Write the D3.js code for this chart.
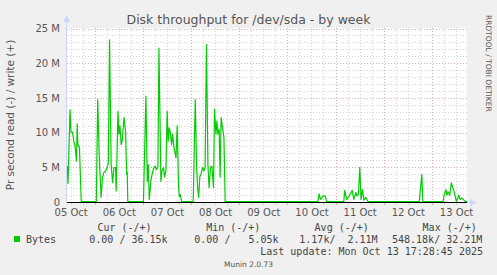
<!DOCTYPE html>
<html>
<head>
<meta charset="utf-8">
<script src="https://cdn.jsdelivr.net/npm/d3@7"></script>
<style>
  body { margin: 0; background: #f0f0f0; }
  svg { display: block; }
  text { font-family: "DejaVu Sans", sans-serif; fill: #555; }
  .mono { font-family: "DejaVu Sans Mono", monospace; font-size: 10px; fill: #444; white-space: pre; }
</style>
</head>
<body>
<div id="chart"></div>
<script>
var width = 497;
var height = 275;

// hours since 05 Oct 00:00 and write throughput in M bytes/s
var hours = [10.3, 10.7, 11.7, 12.2, 12.9, 13.7, 14.2, 14.7, 14.9, 15.3, 15.6, 16.4, 17.3,
  24.8, 25.5, 26.3, 27.2, 27.9, 28.6, 29.4, 30.2, 30.8, 31.4, 32.2, 32.9, 33.6, 34.4, 34.7,
  35.6, 36.1, 36.6, 37.2, 37.7, 38.6, 39.4, 39.9, 40.2, 40.5,
  48.3, 49.5, 50.2, 50.7, 51.2, 52.0, 52.6, 53.5, 54.1, 54.8, 55.5, 56.0, 57.0, 57.5, 58.3,
  58.8, 59.5, 60.1, 60.6, 61.1, 61.6, 62.3, 62.8, 63.5, 64.5, 65.1, 65.8, 66.2, 66.7, 67.3,
  73.1, 74.1, 74.8, 75.3, 75.8, 76.4, 77.0, 77.7, 78.4, 79.0, 79.7, 80.4, 81.0, 81.7, 82.4,
  83.2, 83.7, 84.4, 84.9, 85.4, 86.0, 86.5, 87.0, 87.7, 88.4, 89.0,
  135.2, 135.8, 136.5, 137.8, 138.8, 139.6,
  148.1, 148.6, 149.5, 150.8, 152.3, 153.1, 154.1, 154.7, 155.4, 156.1, 156.7, 157.4, 158.1, 159.1, 160.1,
  185.7, 187.0, 187.5,
  197.6, 198.1, 199.0, 199.5, 200.1, 200.9, 201.7, 202.4, 202.9, 203.5, 204.2, 205.4, 206.0,
  207.0, 208.0, 208.7, 209.5];
var writeM = [5.1, 2.6, 13.2, 10, 10, 8.5, 8, 6.5, 5.8, 11.2, 8.2, 7.8, 0,
  0, 14.7, 6.3, 0.6, 3.5, 4.2, 4.4, 4.9, 5.5, 23.3, 5.3, 2.7, 4.9, 4.9, 1.5,
  13, 9.7, 10.9, 8.2, 8.7, 12.1, 10.1, 3.9, 4.2, 0,
  0, 15.2, 2.9, 5.3, 0.3, 3, 3.9, 4.9, 5.1, 4.6, 5, 22.1, 2.9, 4.4, 4.9,
  3.5, 4.5, 13, 8.7, 10.6, 10.1, 8.2, 9.7, 7.8, 6.3, 10.9, 2, 0.7, 1.0, 0,
  0, 14.7, 4.9, 2, 0.6, 3.6, 4, 4.9, 4.4, 4.9, 22.6, 5.3, 2, 4.9, 5.1,
  2, 13.3, 9.7, 11.6, 9.7, 10.4, 3.5, 12.1, 10.6, 9.2, 0,
  0, 1.1, 0.3, 0.8, 0.8, 0,
  0, 1.6, 0.3, 0.8, 1.6, 0.3, 1.3, 0.8, 1.0, 4.9, 0.3, 1.7, 0.2, 0.6, 0,
  0, 3.9, 0,
  0, 0.9, 1.7, 0.9, 1.4, 0.9, 2.7, 2, 1.6, 0.9, 0, 0.9, 0.3,
  0.5, 0.2, 0, 0];

var yTicks = [0, 5, 10, 15, 20, 25];
var dayLabels = ["05 Oct", "06 Oct", "07 Oct", "08 Oct", "09 Oct", "10 Oct", "11 Oct", "12 Oct", "13 Oct"];
var legendHeads = ["Cur (-/+)", "Min (-/+)", "Avg (-/+)", "Max (-/+)"];
var legendValues = ["0.00 / 36.15k", "0.00 /   5.05k", "1.17k/  2.11M", "548.18k/ 32.21M"];

var day0 = new Date(2025, 9, 5, 0, 0);
function hoursToDate(h) { return new Date(day0.getTime() + h * 3600e3); }

var x = d3.scaleTime()
  .domain([hoursToDate(10.2), hoursToDate(209.5)])
  .range([67, 467]);
var y = d3.scaleLinear()
  .domain([0, 25])
  .range([202, 28.5]);

var svg = d3.select("#chart").append("svg")
  .attr("width", width)
  .attr("height", height);

svg.append("rect")
  .attr("x", 67).attr("y", 28)
  .attr("width", 400).attr("height", 174)
  .attr("fill", "#fff");

// minor grid
var grid = svg.append("g").attr("shape-rendering", "crispEdges");
grid.selectAll(".hmin")
  .data(d3.range(1, 26).filter(function(d) { return d % 5 != 0; }))
  .enter().append("line")
  .attr("x1", 67).attr("x2", 467)
  .attr("y1", function(d) { return Math.round(y(d)) + 0.5; })
  .attr("y2", function(d) { return Math.round(y(d)) + 0.5; })
  .attr("stroke", "#d4d4d4").attr("stroke-dasharray", "1,2");

var sixHours = d3.timeHour.every(6).range(x.domain()[0], x.domain()[1]);
grid.selectAll(".vmin")
  .data(sixHours.filter(function(d) { return d.getHours() != 0; }))
  .enter().append("line")
  .attr("y1", 28).attr("y2", 202)
  .attr("x1", function(d) { return Math.round(x(d)) + 0.5; })
  .attr("x2", function(d) { return Math.round(x(d)) + 0.5; })
  .attr("stroke", "#d4d4d4").attr("stroke-dasharray", "1,2");

// major grid
grid.selectAll(".hmaj")
  .data(yTicks.slice(1))
  .enter().append("line")
  .attr("x1", 67).attr("x2", 467)
  .attr("y1", function(d) { return Math.round(y(d)) + 0.5; })
  .attr("y2", function(d) { return Math.round(y(d)) + 0.5; })
  .attr("stroke", "#e6a8a8").attr("stroke-dasharray", "1,2");

var midnights = d3.timeDay.range(x.domain()[0], x.domain()[1]);
grid.selectAll(".vmaj")
  .data(midnights)
  .enter().append("line")
  .attr("y1", 28).attr("y2", 202)
  .attr("x1", function(d) { return Math.round(x(d)) + 0.5; })
  .attr("x2", function(d) { return Math.round(x(d)) + 0.5; })
  .attr("stroke", "#e6a8a8").attr("stroke-dasharray", "1,2");

// ticks below the axis
grid.selectAll(".tmin")
  .data(sixHours)
  .enter().append("line")
  .attr("y1", 202).attr("y2", 205)
  .attr("x1", function(d) { return Math.round(x(d)) + 0.5; })
  .attr("x2", function(d) { return Math.round(x(d)) + 0.5; })
  .attr("stroke", function(d) { return d.getHours() == 0 ? "#e6a8a8" : "#d4d4d4"; });

// data
var points = hours.map(function(h, i) { return { t: hoursToDate(h), v: writeM[i] }; });
var line = d3.line()
  .x(function(d) { return x(d.t); })
  .y(function(d) { return y(d.v) - 0.5; });

svg.append("path")
  .datum(points)
  .attr("d", line)
  .attr("fill", "none")
  .attr("stroke", "#00cc00")
  .attr("stroke-width", 1.2)
  .attr("stroke-linejoin", "round");

// zero line
svg.append("line")
  .attr("x1", 67).attr("x2", 467).attr("y1", 202.5).attr("y2", 202.5)
  .attr("stroke", "#000").attr("stroke-width", 1);

// axes
svg.append("line")
  .attr("x1", 66.5).attr("x2", 66.5).attr("y1", 20).attr("y2", 203)
  .attr("stroke", "#cfd6f8");
svg.append("path")
  .attr("d", "M63,22 L70,22 L66.5,15 Z")
  .attr("fill", "#cfd6f8");
svg.append("line")
  .attr("x1", 467).attr("x2", 472).attr("y1", 202.5).attr("y2", 202.5)
  .attr("stroke", "#cfd6f8");
svg.append("path")
  .attr("d", "M470,199 L470,206 L477,202.5 Z")
  .attr("fill", "#cfd6f8");

// y labels
svg.append("g")
  .attr("transform", "translate(60,0)")
  .call(d3.axisLeft(y).tickValues(yTicks).tickSize(0).tickPadding(0)
    .tickFormat(function(d) { return d == 0 ? "0" : d + " M"; }))
  .call(function(g) {
    g.select(".domain").remove();
    g.selectAll("text").attr("font-family", "DejaVu Sans").attr("font-size", 10).attr("fill", "#555");
  });

// x labels at noon
svg.append("g")
  .attr("transform", "translate(0,208.5)")
  .call(d3.axisBottom(x)
    .tickValues(dayLabels.map(function(d, i) { return hoursToDate(12 + 24 * i); }))
    .tickSize(0).tickPadding(0)
    .tickFormat(function(d, i) { return dayLabels[i]; }))
  .call(function(g) {
    g.select(".domain").remove();
    g.selectAll("text").attr("font-family", "DejaVu Sans").attr("font-size", 10).attr("fill", "#555");
  });

// title
svg.append("text")
  .attr("x", 248.5).attr("y", 24)
  .attr("text-anchor", "middle")
  .attr("font-size", 12.5)
  .attr("fill", "#555")
  .text("Disk throughput for /dev/sda - by week");

svg.append("text")
  .attr("transform", "translate(14,115) rotate(-90)")
  .attr("text-anchor", "middle")
  .attr("font-size", 10.5)
  .attr("fill", "#666")
  .text("Pr second read (-) / write (+)");

svg.append("text")
  .attr("transform", "translate(486,15) rotate(90)")
  .attr("font-size", 7.5)
  .attr("fill", "#c8c8c8")
  .text("RRDTOOL / TOBI OETIKER");

// legend
var headX = [124.5, 233.3, 341.7, 449.7];
svg.selectAll(".head")
  .data(legendHeads)
  .enter().append("text")
  .attr("class", "mono")
  .attr("x", function(d, i) { return headX[i]; })
  .attr("y", 231)
  .attr("text-anchor", "middle")
  .text(function(d) { return d; });

svg.append("rect")
  .attr("x", 14).attr("y", 236).attr("width", 6).attr("height", 6)
  .attr("fill", "#00cc00");
svg.append("text")
  .attr("class", "mono")
  .attr("x", 26).attr("y", 243)
  .text("Bytes");

var valX = [89.3, 194.3, 299.3, 392];
svg.selectAll(".val")
  .data(legendValues)
  .enter().append("text")
  .attr("class", "mono")
  .attr("x", function(d, i) { return valX[i]; })
  .attr("y", 243)
  .text(function(d) { return d; });

svg.append("text")
  .attr("class", "mono")
  .attr("x", 483).attr("y", 255)
  .attr("text-anchor", "end")
  .text("Last update: Mon Oct 13 17:28:45 2025");

svg.append("text")
  .attr("x", 248.5).attr("y", 267)
  .attr("text-anchor", "middle")
  .attr("font-size", 7.5)
  .attr("fill", "#c0c0c0")
  .text("Munin 2.0.73");
</script>
</body>
</html>
